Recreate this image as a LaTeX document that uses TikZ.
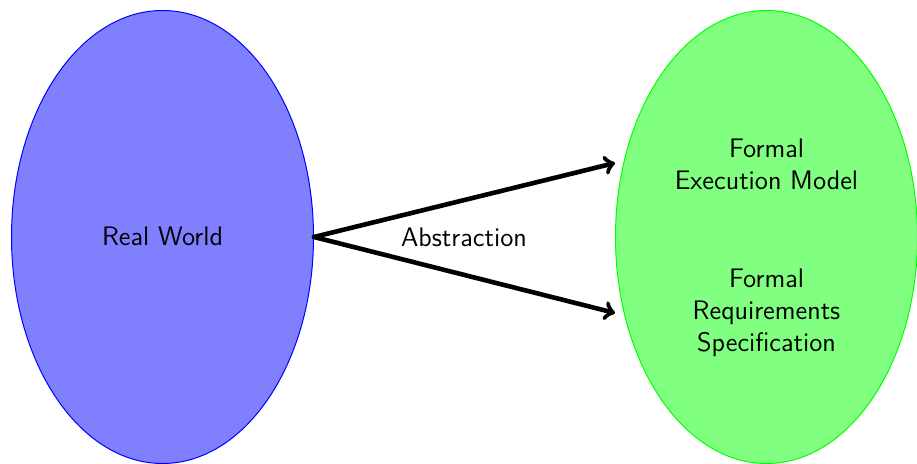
\documentclass[tikz,border=0pt]{standalone}
\usetikzlibrary{shapes.geometric}
\begin{document}
\begin{tikzpicture}[x=0.5pt,y=-0.5pt,
  blob/.style={ellipse, inner sep=0pt, minimum width=151pt, minimum height=226.5pt, line width=0.5pt},
  txt/.style={font=\sffamily\fontsize{13.4}{16}\selectfont, align=center, inner sep=0pt},
  absarrow/.style={->, line width=2.3pt, line join=round, line cap=round}]
\useasboundingbox (0,0) rectangle (917,464);
\node[blob, draw=blue, fill=blue!50] (rw) at (162.5,237) {};
\node[blob, draw=green, fill=green!50] (fm) at (766.5,237) {};
\node[txt, anchor=base] (rwl) at (162.5,246) {Real World};
\node[txt] (em) at (766.5,164) {Formal\\Execution Model};
\node[txt] (rs) at (766.5,313) {Formal\\Requirements\\Specification};
\node[txt, anchor=base] (ab) at (464,246.7) {Abstraction};
\coordinate (t1) at (615,163);
\coordinate (t2) at (615,313);
\draw[absarrow] (rw.east) -- (t1);
\draw[absarrow] (rw.east) -- (t2);
\end{tikzpicture}
\end{document}
